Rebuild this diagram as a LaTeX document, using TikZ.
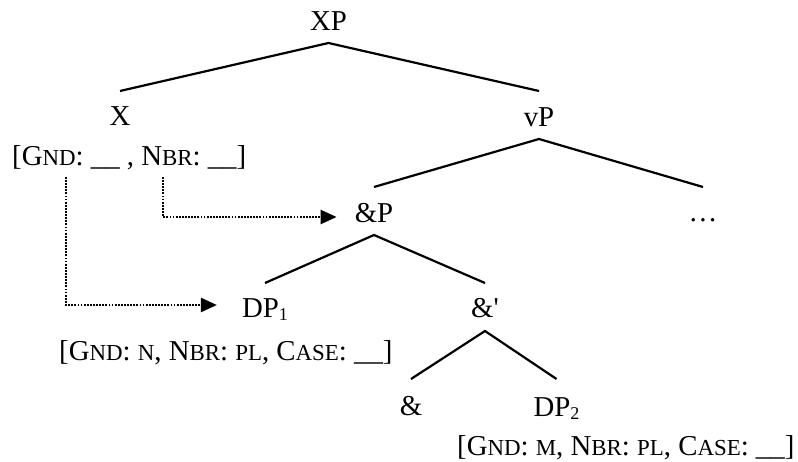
\documentclass[tikz,border=0pt]{standalone}
\usepackage{fontspec}
\setmainfont{Liberation Serif}[Ligatures=TeXOff]
\usetikzlibrary{arrows.meta}
\newcommand\smc[1]{{\fontsize{22.9}{22.9}\selectfont #1}}
\newcommand\subn[1]{\raisebox{-3pt}{\fontsize{18}{18}\selectfont #1}}
\begin{document}
\begin{tikzpicture}[x=1pt,y=-1pt,
  lab/.style={inner sep=0pt, anchor=base, font=\fontsize{28.8}{30}\selectfont},
  feat/.style={inner sep=0pt, anchor=base west, font=\fontsize{28.8}{30}\selectfont},
  branch/.style={line width=2.2pt},
  dotarr/.style={line width=2.4pt, dash pattern=on 1.8pt off 1.3pt,
    -{Triangle[length=16pt,width=14pt]}}]
\useasboundingbox (0,0) rectangle (798,462);
% tree labels
\node[lab] (XP) at (328.5,31) {XP};
\node[lab] (X) at (120,126) {X};
\node[feat] (Xf) at (12,166) {[G\smc{ND}: \_\_ , N\smc{BR}: \_\_]};
\node[lab] (vP) at (539,127) {vP};
\node[lab] (AP) at (374,223) {\&P};
\node[lab] (dots) at (703,222) {…};
\node[lab] (DP1) at (265,318) {DP\subn{1}};
\node[feat] (DP1f) at (59,360) {[G\smc{ND}: \smc{N}, N\smc{BR}: \smc{PL}, C\smc{ASE}: \_\_]};
\node[lab] (Abar) at (485,318) {\&'};
\node[lab] (Amp) at (411,415) {\&};
\node[lab] (DP2) at (556.5,416) {DP\subn{2}};
\node[feat] (DP2f) at (457,455) {[G\smc{ND}: \smc{M}, N\smc{BR}: \smc{PL}, C\smc{ASE}: \_\_]};
% branches
\draw[branch] ([yshift=35pt]X.base) -- ([yshift=-12pt]XP.base) -- ([yshift=36pt]vP.base);
\draw[branch] ([yshift=36pt]AP.base) -- ([yshift=-12pt]vP.base) -- ([yshift=35pt]dots.base);
\draw[branch] ([yshift=35pt]DP1.base) -- ([yshift=-12pt]AP.base) -- ([yshift=35pt]Abar.base);
\draw[branch] ([yshift=36pt]Amp.base) -- ([yshift=-13pt]Abar.base) -- ([yshift=37pt]DP2.base);
% agreement arrows
\coordinate (s1) at (66,177);
\coordinate (s2) at (163,177);
\draw[dotarr] (s1) |- ([xshift=-25pt,yshift=13pt]DP1.base west);
\draw[dotarr] (s2) |- ([xshift=-18pt,yshift=6pt]AP.base west);
\end{tikzpicture}
\end{document}
